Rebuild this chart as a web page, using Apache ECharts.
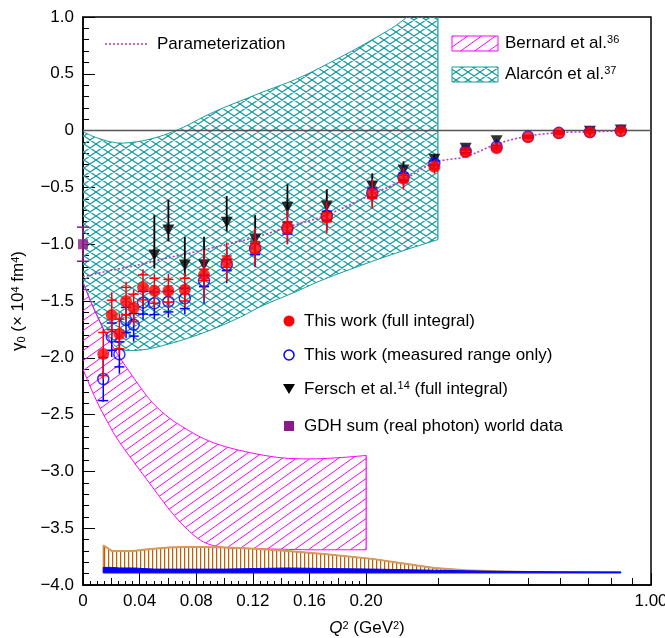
<!DOCTYPE html>
<html>
<head>
<meta charset="utf-8">
<script src="https://cdn.jsdelivr.net/npm/echarts@6/dist/echarts.min.js"></script>
<style>
html,body{margin:0;padding:0;background:#fff;}
#c{width:665px;height:638px;}
</style>
</head>
<body>
<div id="c"></div>
<script>
// ---------------- data ----------------
// Q^2 (GeV^2) of this work
const Q = [0.0143, 0.0203, 0.0257, 0.0304, 0.0358, 0.0424, 0.0504, 0.0603, 0.0719, 0.0855, 0.1015, 0.1216, 0.1444, 0.1722, 0.207, 0.247, 0.294, 0.351, 0.418, 0.499, 0.594, 0.708, 0.843];
// gamma0, full integral (red)
const gammaFull = [-1.967, -1.623, -1.79, -1.50, -1.56, -1.38, -1.41, -1.41, -1.40, -1.27, -1.154, -1.027, -0.851, -0.763, -0.558, -0.423, -0.318, -0.191, -0.156, -0.059, -0.024, -0.015, -0.004];
const errFull = [0.22, 0.2, 0.18, 0.17, 0.16, 0.16, 0.15, 0.15, 0.15, 0.22, 0.17, 0.17, 0.15, 0.14, 0.13, 0.095, 0.06, 0.03, 0.025, 0.02, 0.015, 0.01, 0.01];
const capFull = [0.19, 0.13, 0.13, 0.12, 0.12, 0.11, 0.11, 0.1, 0.1, 0.05, 0.05, 0.05, 0.05, 0.04, 0.04, 0.03, 0.02, 0.015, 0.01, 0.01, 0.01, 0.005, 0.005];
// gamma0, measured range only (blue)
const gammaMeas = [-2.187, -1.814, -1.97, -1.667, -1.709, -1.515, -1.52, -1.506, -1.477, -1.324, -1.183, -1.042, -0.86, -0.75, -0.546, -0.405, -0.288, -0.18, -0.142, -0.053, -0.02, -0.012, -0.002];
const errMeas = [0.2, 0.18, 0.17, 0.16, 0.15, 0.15, 0.14, 0.14, 0.14, 0.2, 0.16, 0.16, 0.14, 0.13, 0.12, 0.09, 0.05, 0.03, 0.02, 0.015, 0.01, 0.01, 0.01];
const capMeas = [0.19, 0.12, 0.11, 0.11, 0.1, 0.1, 0.1, 0.09, 0.09, 0.05, 0.05, 0.05, 0.05, 0.04, 0.04, 0.03, 0.02, 0.015, 0.01, 0.01, 0.01, 0.005, 0.005];
// systematic bands at the bottom
const sysBase = [-3.893, -3.893, -3.893, -3.893, -3.893, -3.893, -3.893, -3.893, -3.893, -3.893, -3.893, -3.893, -3.893, -3.893, -3.893, -3.893, -3.893, -3.893, -3.893, -3.893, -3.893, -3.893, -3.893];
const sysFullTop = [-3.65, -3.70, -3.70, -3.70, -3.70, -3.69, -3.68, -3.67, -3.665, -3.665, -3.67, -3.68, -3.70, -3.73, -3.77, -3.81, -3.85, -3.87, -3.88, -3.885, -3.885, -3.885, -3.885];
const sysMeasTop = [-3.845, -3.845, -3.85, -3.85, -3.85, -3.855, -3.86, -3.86, -3.86, -3.86, -3.86, -3.855, -3.85, -3.855, -3.86, -3.865, -3.87, -3.875, -3.88, -3.882, -3.884, -3.885, -3.886];
// Fersch et al. (black triangles)
const fQ = [0.0504, 0.0603, 0.0719, 0.0855, 0.1015, 0.1216, 0.1444, 0.1722, 0.207, 0.247, 0.294, 0.351, 0.418, 0.708, 0.843];
const fY = [-1.095, -0.875, -1.183, -1.18, -0.807, -0.954, -0.675, -0.664, -0.488, -0.347, -0.253, -0.156, -0.089, -0.005, 0.005];
const fErrUp = [0.351, 0.265, 0.25, 0.246, 0.231, 0.21, 0.202, 0.147, 0.112, 0.077, 0.04, 0.02, 0.01, 0.005, 0.005];
const fErrDn = [0.12, 0.1, 0.1, 0.1, 0.08, 0.08, 0.07, 0.06, 0.05, 0.03, 0.02, 0.01, 0.01, 0.005, 0.005];
// GDH sum (real photon)
const gdhQ = [0];
const gdhY = [-1.0];
const gdhErr = [0.15];
// Parameterization (dotted)
const paramQ = [0, 0.02, 0.04, 0.06, 0.0855, 0.1015, 0.1216, 0.1444, 0.1722, 0.207, 0.247, 0.294, 0.351, 0.418, 0.499, 0.594, 0.708, 0.843];
const paramY = [-1.286, -1.23, -1.18, -1.12, -1.05, -1.0, -0.94, -0.85, -0.743, -0.56, -0.435, -0.28, -0.23, -0.118, -0.048, -0.018, -0.01, -0.003];
// Alarcon et al. band (teal)
const alQ = [0, 0.007, 0.014, 0.02, 0.028, 0.042, 0.057, 0.071, 0.085, 0.099, 0.113, 0.127, 0.15, 0.17, 0.2, 0.25, 0.3];
const alHi = [-0.01, -0.05, -0.08, -0.1, -0.11, -0.09, -0.04, 0.03, 0.12, 0.2, 0.27, 0.34, 0.45, 0.57, 0.77, 0.99, 1.3];
const alLo = [-1.33, -1.55, -1.74, -1.86, -1.93, -1.93, -1.89, -1.84, -1.78, -1.71, -1.63, -1.54, -1.42, -1.31, -1.17, -1.05, -0.96];
// Bernard et al. band (magenta)
const beQ = [0, 0.006, 0.012, 0.018, 0.024, 0.036, 0.048, 0.06, 0.072, 0.085, 0.1, 0.12, 0.14, 0.16, 0.18, 0.2];
const beHi = [-1.34, -1.52, -1.68, -1.83, -1.96, -2.18, -2.38, -2.52, -2.62, -2.71, -2.78, -2.84, -2.88, -2.89, -2.88, -2.86];
const beLo = [-2.1, -2.28, -2.44, -2.58, -2.71, -2.92, -3.12, -3.32, -3.49, -3.62, -3.67, -3.68, -3.685, -3.69, -3.69, -3.69];
// axis ticks
const xTickQ = [0, 0.04, 0.08, 0.12, 0.16, 0.20, 1.00];
const xTickLabels = ['0', '0.04', '0.08', '0.12', '0.16', '0.20', '1.00'];
const xMidTickQ = [0.02, 0.06, 0.10, 0.14, 0.18, 0.3, 0.4, 0.5, 0.6, 0.7, 0.8, 0.9];

// ---------------- x scale: linear up to 0.2, logarithmic 0.2 .. 1.0 ----------------
const Q_BREAK = 0.2, K_LOG = 0.125;
const tx = q => q <= Q_BREAK ? q : Q_BREAK + K_LOG * Math.log(q / Q_BREAK);
const X_MAX = tx(1.0);
const xMinorTickQ = [];
for (let i = 1; i < 40; i++) { if (i % 4 !== 0) xMinorTickQ.push(i * 0.005); }

const FONT = '"Liberation Sans", Arial, Helvetica, sans-serif';
const TEAL = '#149c9c', MAG = '#ff00ff', ORANGE = '#c06000', PURPLE = '#8a1a8a', PARAM = '#b040b8';

function makePattern(w, h, draw) {
  const c = document.createElement('canvas');
  c.width = w; c.height = h;
  const g = c.getContext('2d');
  draw(g, w, h);
  return { image: c, repeat: 'repeat' };
}
const tealPat = () => makePattern(12, 8, (g, w, h) => {
  g.strokeStyle = TEAL; g.lineWidth = 1.2;
  g.beginPath();
  g.moveTo(-w, -h); g.lineTo(2 * w, 2 * h);
  g.moveTo(-w, 2 * h); g.lineTo(2 * w, -h);
  g.moveTo(0, -h); g.lineTo(2 * w, h); g.moveTo(-w, 0); g.lineTo(w, 2 * h);
  g.moveTo(-w, h); g.lineTo(w, -h); g.moveTo(0, 2 * h); g.lineTo(2 * w, 0);
  g.stroke();
});
const magPat = () => makePattern(14, 10, (g, w, h) => {
  g.strokeStyle = MAG; g.lineWidth = 1;
  g.beginPath();
  g.moveTo(-w, 2 * h); g.lineTo(2 * w, -h);
  g.moveTo(-w, h); g.lineTo(w, -h);
  g.moveTo(0, 2 * h); g.lineTo(2 * w, 0);
  g.stroke();
});
const orangePat = () => makePattern(4, 4, (g, w, h) => {
  g.strokeStyle = ORANGE; g.lineWidth = 1.3;
  g.beginPath(); g.moveTo(0.6, 0); g.lineTo(0.6, h); g.stroke();
});

// Catmull-Rom drawing of a curve through pixel points (rendering only)
function spline(pts, steps) {
  if (pts.length < 3) return pts.slice();
  const out = [];
  for (let i = 0; i < pts.length - 1; i++) {
    const p0 = pts[Math.max(0, i - 1)], p1 = pts[i], p2 = pts[i + 1], p3 = pts[Math.min(pts.length - 1, i + 2)];
    for (let s = 0; s < steps; s++) {
      const t = s / steps, t2 = t * t, t3 = t2 * t;
      out.push([0, 1].map(k => 0.5 * (2 * p1[k] + (-p0[k] + p2[k]) * t + (2 * p0[k] - 5 * p1[k] + 4 * p2[k] - p3[k]) * t2 + (-p0[k] + 3 * p1[k] - 3 * p2[k] + p3[k]) * t3)));
    }
  }
  out.push(pts[pts.length - 1]);
  return out;
}

function bandSeries(name, qs, lo, hi, fill, stroke, z, opts) {
  opts = opts || {};
  return {
    type: 'custom', name, z, silent: true, clip: true,
    data: [[0, 0]],
    renderItem(params, api) {
      let up = qs.map((q, i) => api.coord([tx(q), hi[i]]));
      let dn = qs.map((q, i) => api.coord([tx(q), lo[i]]));
      if (opts.smooth) { up = spline(up, 8); dn = spline(dn, 8); }
      const children = [{ type: 'polygon', shape: { points: up.concat(dn.slice().reverse()) }, style: { fill, stroke: opts.outline ? stroke : null, lineWidth: 1 } }];
      if (!opts.outline) {
        children.push({ type: 'polyline', shape: { points: up }, style: { fill: null, stroke, lineWidth: 1 } });
        children.push({ type: 'polyline', shape: { points: dn }, style: { fill: null, stroke, lineWidth: 1 } });
        const a = up[up.length - 1], b = dn[dn.length - 1];
        children.push({ type: 'line', shape: { x1: a[0], y1: a[1], x2: b[0], y2: b[1] }, style: { stroke, lineWidth: 1.2 } });
      }
      if (opts.topStroke) children.push({ type: 'polyline', shape: { points: up }, style: { fill: null, stroke: opts.topStroke, lineWidth: 2 } });
      return { type: 'group', children };
    }
  };
}

// vertical error bar; caps drawn at +/- cap (may be inside the bar, giving a "+" look)
function errSeries(name, qs, ys, eDn, eUp, cDn, cUp, color, capW, z, lw) {
  return {
    type: 'custom', name, z, silent: true, clip: false,
    data: qs.map((q, i) => [tx(q), ys[i], eDn[i], eUp[i], cDn ? cDn[i] : 0, cUp ? cUp[i] : 0]),
    encode: { x: 0, y: 1 },
    renderItem(params, api) {
      const x = api.value(0), y = api.value(1);
      const t = api.coord([x, y + api.value(3)]);
      const b = api.coord([x, y - api.value(2)]);
      const st = { stroke: color, lineWidth: lw || 1.5 };
      const ch = [{ type: 'line', shape: { x1: t[0], y1: t[1], x2: b[0], y2: b[1] }, style: st }];
      if (capW) {
        const ct = api.coord([x, y + api.value(5)]), cb = api.coord([x, y - api.value(4)]);
        ch.push({ type: 'line', shape: { x1: ct[0] - capW / 2, y1: ct[1], x2: ct[0] + capW / 2, y2: ct[1] }, style: st });
        ch.push({ type: 'line', shape: { x1: cb[0] - capW / 2, y1: cb[1], x2: cb[0] + capW / 2, y2: cb[1] }, style: st });
      }
      return { type: 'group', children: ch };
    }
  };
}

const richSup = {
  i: { fontStyle: 'italic', fontSize: 17, fontFamily: FONT, color: '#000' },
  sup: { fontSize: 11, fontFamily: FONT, verticalAlign: 'top', color: '#000' },
  sub: { fontSize: 11, fontFamily: FONT, verticalAlign: 'bottom', color: '#000' }
};

const chart = echarts.init(document.getElementById('c'), null, { renderer: 'canvas' });

const xBase = {
  type: 'value', min: 0, max: X_MAX, position: 'bottom', gridIndex: 0,
  splitLine: { show: false }
};

const option = {
  animation: false,
  backgroundColor: '#fff',
  grid: { left: 83, top: 17, width: 568, height: 568, show: true, borderColor: '#000', borderWidth: 1.5, backgroundColor: 'transparent', outerBoundsMode: 'none', containLabel: false },
  xAxis: [
    Object.assign({}, xBase, {
      axisLine: { show: true, onZero: false, lineStyle: { color: '#000', width: 1.5 } },
      axisTick: { show: true, inside: true, length: 12, customValues: xTickQ.map(tx), lineStyle: { color: '#000', width: 1 } },
      axisLabel: {
        show: true, customValues: xTickQ.map(tx), fontSize: 17, fontFamily: FONT, color: '#000', margin: 8,
        formatter: v => { const i = xTickQ.findIndex(q => Math.abs(tx(q) - v) < 1e-6); return i >= 0 ? xTickLabels[i] : ''; }
      },
      name: '{i|Q}{sup|2} (GeV{sup|2})', nameLocation: 'middle', nameGap: 35,
      nameTextStyle: { fontSize: 17, fontFamily: FONT, color: '#000', rich: richSup }
    }),
    Object.assign({}, xBase, {
      axisLine: { show: false, onZero: false },
      axisTick: { show: true, inside: true, length: 7, customValues: xMidTickQ.map(tx), lineStyle: { color: '#000', width: 1 } },
      axisLabel: { show: false }
    }),
    Object.assign({}, xBase, {
      axisLine: { show: false, onZero: false },
      axisTick: { show: true, inside: true, length: 4, customValues: xMinorTickQ.map(tx), lineStyle: { color: '#000', width: 1 } },
      axisLabel: { show: false }
    })
  ],
  yAxis: {
    type: 'value', min: -4, max: 1, interval: 0.5,
    axisLine: { show: true, onZero: false, lineStyle: { color: '#000', width: 1.5 } },
    axisTick: { show: true, inside: true, length: 12, lineStyle: { color: '#000', width: 1 } },
    minorTick: { show: true, splitNumber: 5, length: 6, lineStyle: { color: '#000', width: 1 } },
    splitLine: { show: false }, minorSplitLine: { show: false },
    axisLabel: {
      fontSize: 17, fontFamily: FONT, color: '#000', margin: 9,
      formatter: v => Math.abs(v) < 1e-9 ? '0' : (v < 0 ? '\u2212' : '') + Math.abs(v).toFixed(1)
    },
    name: '\u03b3{sub|0} (\u00d7 10{sup|4} fm{sup|4})', nameLocation: 'middle', nameGap: 56, nameRotate: 90,
    nameTextStyle: { fontSize: 17, fontFamily: FONT, color: '#000', rich: richSup }
  },
  series: [
    bandSeries('Alarcón et al.', alQ, alLo, alHi, tealPat(), TEAL, 1, { smooth: true }),
    bandSeries('Bernard et al.', beQ, beLo, beHi, magPat(), MAG, 2, { smooth: true }),
    bandSeries('sys full', Q, sysBase, sysFullTop, orangePat(), ORANGE, 3, { outline: true, topStroke: '#d89a5c' }),
    bandSeries('sys meas', Q, sysBase, sysMeasTop, '#0000ff', '#0000ff', 4, { outline: true }),
    {
      type: 'line', name: 'zero', z: 5, silent: true, symbol: 'none',
      data: [[0, 0], [X_MAX, 0]], lineStyle: { color: '#555', width: 1.5 }
    },
    {
      type: 'line', name: 'Parameterization', z: 6, silent: true, symbol: 'none', smooth: 0.3,
      data: paramQ.map((q, i) => [tx(q), paramY[i]]),
      lineStyle: { color: PARAM, width: 1.6, type: [2, 2] }
    },
    errSeries('Fersch err', fQ, fY, fErrDn, fErrUp, null, null, '#000', 0, 7, 1.8),
    {
      type: 'scatter', name: 'Fersch et al.', z: 8, silent: true, clip: false,
      symbol: 'triangle', symbolRotate: 180, symbolSize: [12, 11],
      data: fQ.map((q, i) => [tx(q), fY[i]]), itemStyle: { color: '#000' }
    },
    errSeries('meas err', Q, gammaMeas, errMeas, errMeas, capMeas, capMeas, '#0000ff', 10, 9),
    {
      type: 'scatter', name: 'This work (measured range only)', z: 10, silent: true, clip: false,
      symbol: 'circle', symbolSize: 11,
      data: Q.map((q, i) => [tx(q), gammaMeas[i]]),
      itemStyle: { color: 'rgba(255,255,255,0)', borderColor: '#0000ff', borderWidth: 1.5 }
    },
    errSeries('full err', Q, gammaFull, errFull, errFull, capFull, capFull, '#ff0000', 10, 11),
    {
      type: 'scatter', name: 'This work (full integral)', z: 12, silent: true, clip: false,
      symbol: 'circle', symbolSize: 12,
      data: Q.map((q, i) => [tx(q), gammaFull[i]]), itemStyle: { color: '#ff0000' }
    },
    errSeries('gdh err', gdhQ, gdhY, gdhErr, gdhErr, gdhErr, gdhErr, PURPLE, 12, 13),
    {
      type: 'scatter', name: 'GDH sum', z: 14, silent: true, clip: false,
      symbol: 'rect', symbolSize: 10,
      data: gdhQ.map((q, i) => [tx(q), gdhY[i]]), itemStyle: { color: PURPLE }
    }
  ],
  graphic: [
    // upper-left legend
    { type: 'line', z: 100, shape: { x1: 105, y1: 44, x2: 148, y2: 44 }, style: { stroke: PARAM, lineWidth: 1.6, lineDash: [2, 2] } },
    { type: 'text', z: 100, style: { x: 157, y: 44, text: 'Parameterization', font: '17px ' + FONT, fill: '#000', verticalAlign: 'middle' } },
    // upper-right legend
    { type: 'rect', z: 100, shape: { x: 452, y: 36, width: 46, height: 15 }, style: { fill: magPat(), stroke: MAG, lineWidth: 1 } },
    { type: 'text', z: 100, style: { x: 505, y: 43, text: 'Bernard et al.{sup|36}', font: '17px ' + FONT, fill: '#000', verticalAlign: 'middle', rich: richSup } },
    { type: 'rect', z: 100, shape: { x: 452, y: 67, width: 46, height: 15 }, style: { fill: tealPat(), stroke: TEAL, lineWidth: 1 } },
    { type: 'text', z: 100, style: { x: 505, y: 74, text: 'Alarcón et al.{sup|37}', font: '17px ' + FONT, fill: '#000', verticalAlign: 'middle', rich: richSup } },
    // middle legend
    { type: 'circle', z: 100, shape: { cx: 289, cy: 321, r: 5.5 }, style: { fill: '#ff0000' } },
    { type: 'text', z: 100, style: { x: 304, y: 321, text: 'This work (full integral)', font: '17px ' + FONT, fill: '#000', verticalAlign: 'middle' } },
    { type: 'circle', z: 100, shape: { cx: 289, cy: 355, r: 5 }, style: { fill: 'none', stroke: '#0000ff', lineWidth: 1.5 } },
    { type: 'text', z: 100, style: { x: 304, y: 355, text: 'This work (measured range only)', font: '17px ' + FONT, fill: '#000', verticalAlign: 'middle' } },
    { type: 'polygon', z: 100, shape: { points: [[283, 384], [295, 384], [289, 394]] }, style: { fill: '#000' } },
    { type: 'text', z: 100, style: { x: 304, y: 389, text: 'Fersch et al.{sup|14} (full integral)', font: '17px ' + FONT, fill: '#000', verticalAlign: 'middle', rich: richSup } },
    { type: 'rect', z: 100, shape: { x: 284, y: 421, width: 10, height: 10 }, style: { fill: PURPLE } },
    { type: 'text', z: 100, style: { x: 304, y: 426, text: 'GDH sum (real photon) world data', font: '17px ' + FONT, fill: '#000', verticalAlign: 'middle' } }
  ]
};
chart.setOption(option);
</script>
</body>
</html>
